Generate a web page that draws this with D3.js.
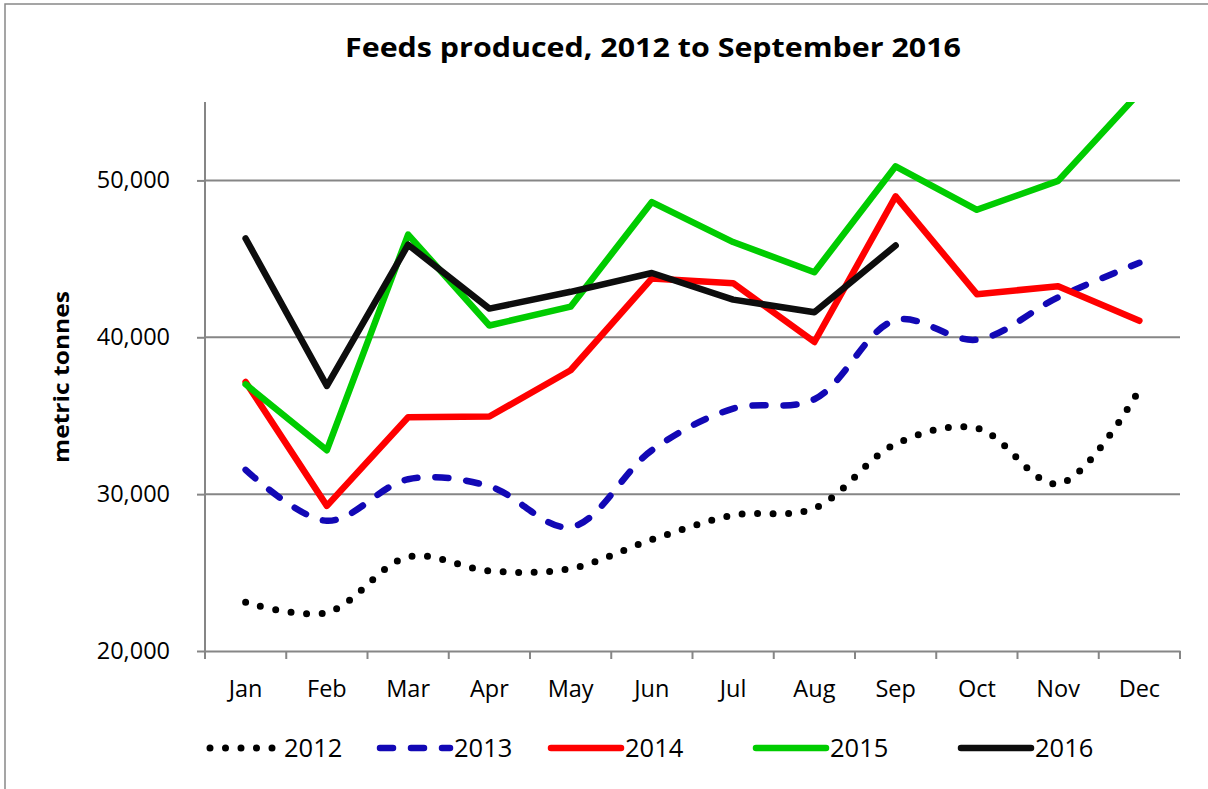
<!DOCTYPE html>
<html><head><meta charset="utf-8">
<script src="https://cdn.jsdelivr.net/npm/d3@7"></script>
<style>body{margin:0;background:#fff}svg{display:block}text{font-family:"Open Sans",Lato,sans-serif}</style>
</head><body><svg id="c" width="1208" height="789"></svg>
<script>
const months = ["Jan","Feb","Mar","Apr","May","Jun","Jul","Aug","Sep","Oct","Nov","Dec"];
const v2012 = [23100,22450,26000,25100,25250,27100,28650,29100,33200,34200,30650,36650];
const v2013 = [31550,28300,30950,30500,27900,32800,35450,36050,41100,39850,42550,44750];
const v2014 = [37150,29250,34900,34950,37900,43750,43450,39700,48980,42750,43250,41050];
const v2015 = [37000,32800,46550,40750,41950,48620,46070,44150,50900,48130,49970,55600];
const v2016 = [46300,36900,45900,41830,42900,44100,42400,41600,45850];
const yTicks = [20000,30000,40000,50000];
const seriesNames = ["2012","2013","2014","2015","2016"];

const series = [
  {name:seriesNames[0], values:v2012, color:"#000000", dash:"0 15.5", width:7, smooth:true},
  {name:seriesNames[1], values:v2013, color:"#1208B5", dash:"13 18", width:6.5, smooth:true},
  {name:seriesNames[2], values:v2014, color:"#FF0000", dash:null, width:6.5, smooth:false},
  {name:seriesNames[3], values:v2015, color:"#00CC00", dash:null, width:6.5, smooth:false},
  {name:seriesNames[4], values:v2016, color:"#0D0D0D", dash:null, width:6.5, smooth:false}
];

const svg = d3.select("#c");
const L = 205, R = 1180, T = 102, B = 651;
const x = d3.scaleBand().domain(months).range([L, R]);
const y = d3.scaleLinear().domain([20000, 55000]).range([B, T]);
const grid = "#868686";

// outer border
svg.append("rect").attr("x",5).attr("y",4).attr("width",1220).attr("height",800)
  .attr("fill","none").attr("stroke","#888").attr("stroke-width",1.5);

// title
svg.append("text").attr("x",653).attr("y",57).attr("text-anchor","middle")
  .attr("font-size",26).attr("font-weight","bold").attr("fill","#000")
  .attr("textLength",616).attr("lengthAdjust","spacingAndGlyphs")
  .text("Feeds produced, 2012 to September 2016");

// gridlines
svg.append("g").selectAll("line").data(yTicks.slice(1)).join("line")
  .attr("x1",L).attr("x2",R).attr("y1",d=>y(d)).attr("y2",d=>y(d))
  .attr("stroke",grid).attr("stroke-width",2);

// y axis
const yAxis = svg.append("g").attr("transform",`translate(${L},0)`)
  .call(d3.axisLeft(y).tickValues(yTicks).tickFormat(d3.format(",")).tickSize(8).tickPadding(27));
yAxis.select(".domain").attr("stroke",grid).attr("stroke-width",2).attr("d",`M0,${T}V${B}`);
yAxis.selectAll(".tick line").attr("stroke",grid).attr("stroke-width",2);
yAxis.selectAll("text").attr("font-size",23.5).attr("fill","#000").style("font-family","Open Sans");

// x axis
const xAxis = svg.append("g").attr("transform",`translate(0,${B})`)
  .call(d3.axisBottom(x).tickSize(0).tickPadding(29));
xAxis.select(".domain").attr("stroke",grid).attr("stroke-width",2);
xAxis.selectAll("text").attr("font-size",23.5).attr("fill","#000").style("font-family","Open Sans");
svg.append("g").selectAll("line").data(months.concat(["end"])).join("line")
  .attr("x1",(d,i)=>L+i*x.step()).attr("x2",(d,i)=>L+i*x.step())
  .attr("y1",B).attr("y2",B+8).attr("stroke",grid).attr("stroke-width",2);

// y title
svg.append("text").attr("transform","translate(69,377) rotate(-90)").attr("text-anchor","middle")
  .attr("font-size",22).attr("font-weight","bold")
  .attr("textLength",172).attr("lengthAdjust","spacingAndGlyphs").text("metric tonnes");

// clip
svg.append("clipPath").attr("id","clip").append("rect").attr("x",L).attr("y",T).attr("width",R-L+10).attr("height",B-T+10);

const plot = svg.append("g").attr("clip-path","url(#clip)");
series.forEach(s=>{
  const line = d3.line().x((d,i)=>x(months[i])+x.bandwidth()/2).y(d=>y(d))
    .curve(s.smooth ? d3.curveCatmullRom.alpha(0.5) : d3.curveLinear);
  plot.append("path").attr("d",line(s.values)).attr("fill","none")
    .attr("stroke",s.color).attr("stroke-width",s.width)
    .attr("stroke-linecap","round").attr("stroke-linejoin","round")
    .attr("stroke-dasharray",s.dash);
});

// legend
const legX = [210, 380, 551, 756, 961];
const leg = svg.append("g");
series.forEach((s,i)=>{
  const g = leg.append("g").attr("transform",`translate(${legX[i]},748)`);
  g.append("line").attr("x1",0).attr("x2",70).attr("y1",0).attr("y2",0)
    .attr("stroke",s.color).attr("stroke-width",s.width).attr("stroke-linecap","round")
    .attr("stroke-dasharray",s.dash);
  g.append("text").attr("x",74).attr("y",9).attr("font-size",25.5).text(s.name);
});
</script></body></html>
